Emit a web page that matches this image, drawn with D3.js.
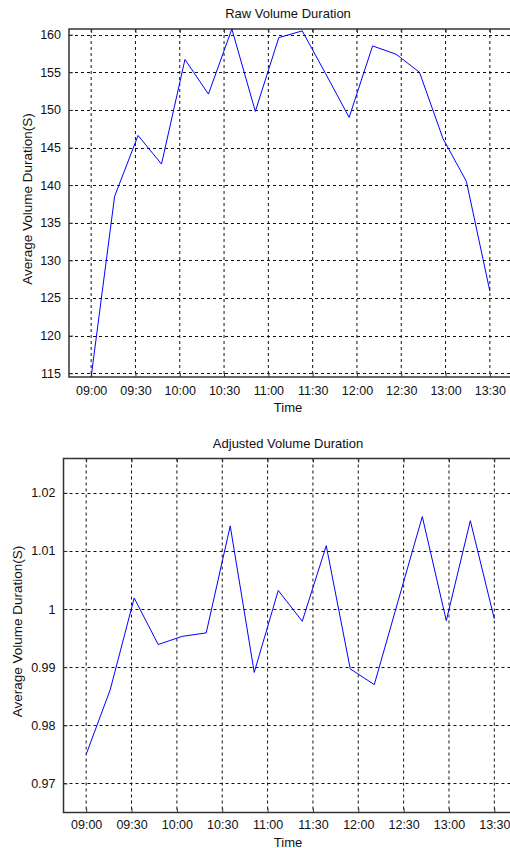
<!DOCTYPE html>
<html>
<head>
<meta charset="utf-8">
<script src="https://cdn.jsdelivr.net/npm/d3@7"></script>
<style>
    html, body { margin: 0; padding: 0; background: #fff; }
    #chart { width: 510px; height: 848px; overflow: hidden; }
    svg { display: block; font-family: "Liberation Sans", Arial, sans-serif; }
</style>
</head>
<body>
<div id="chart"></div>
<script>
// tick labels on the time axis (minutes after midnight)
const timeTicks = [540, 570, 600, 630, 660, 690, 720, 750, 780, 810];
const timeLabels = ['09:00', '09:30', '10:00', '10:30', '11:00', '11:30', '12:00', '12:30', '13:00', '13:30'];

// 18 samples spread evenly from 09:00 to 13:30
const rawDuration = [114.5, 138.5, 146.6, 142.8, 156.7, 152.1, 160.75, 149.8, 159.6,
    160.5, 154.8, 149.0, 158.5, 157.4, 155.0, 146.2, 140.5, 125.9];
const adjustedDuration = [0.9750, 0.9861, 1.0019, 0.9939, 0.9953, 0.9959, 1.0143, 0.9891, 1.0032,
    0.9979, 1.0109, 0.9897, 0.9870, 1.0015, 1.0159, 0.9980, 1.0152, 0.9983];

const rawTicks = [115, 120, 125, 130, 135, 140, 145, 150, 155, 160];
const adjustedTicks = [0.97, 0.98, 0.99, 1.00, 1.01, 1.02];

const startMin = 540, endMin = 810;

const svg = d3.select('#chart').append('svg')
    .attr('width', 510)
    .attr('height', 848);

function drawPanel(opts) {
    const { values, yTicks, yFormat, yPad, box, title, titleY, xLabelY, yLabelX, tickLabelY } = opts;
    const n = values.length;
    const times = values.map((v, i) => startMin + i * (endMin - startMin) / (n - 1));

    const x = d3.scaleLinear()
        .domain([startMin - 15, endMin + 15])
        .range([box.left, box.right]);

    const ext = d3.extent(values);
    const y = d3.scaleLinear()
        .domain([ext[0] - yPad, ext[1] + yPad])
        .range([box.bottom, box.top]);

    const g = svg.append('g');

    // dashed grid
    g.selectAll('.vgrid')
        .data(timeTicks)
        .enter()
        .append('line')
        .attr('x1', d => x(d)).attr('x2', d => x(d))
        .attr('y1', box.top).attr('y2', box.bottom)
        .attr('stroke', '#111')
        .attr('stroke-width', 1)
        .attr('stroke-dasharray', '3,3');

    g.selectAll('.hgrid')
        .data(yTicks)
        .enter()
        .append('line')
        .attr('x1', box.left).attr('x2', box.right)
        .attr('y1', d => Math.round(y(d)) + 0.5).attr('y2', d => Math.round(y(d)) + 0.5)
        .attr('stroke', '#111')
        .attr('stroke-width', 1)
        .attr('stroke-dasharray', '3,3');

    // axes, inward ticks like matlab
    const bottomAxis = d3.axisBottom(x)
        .tickValues(timeTicks)
        .tickFormat((d, i) => timeLabels[i])
        .tickSizeInner(-4)
        .tickSizeOuter(0)
        .tickPadding(9);
    const ax = g.append('g')
        .attr('transform', `translate(0,${box.bottom})`)
        .call(bottomAxis);
    ax.select('.domain').remove();
    ax.selectAll('line').attr('stroke', '#333');
    ax.selectAll('text')
        .attr('font-size', '12.5px')
        .attr('fill', '#111')
        .attr('dy', null)
        .attr('y', tickLabelY - box.bottom);

    const topAxis = d3.axisTop(x)
        .tickValues(timeTicks)
        .tickFormat('')
        .tickSizeInner(-4)
        .tickSizeOuter(0);
    const tx = g.append('g')
        .attr('transform', `translate(0,${box.top})`)
        .call(topAxis);
    tx.select('.domain').remove();
    tx.selectAll('line').attr('stroke', '#333');

    const leftAxis = d3.axisLeft(y)
        .tickValues(yTicks)
        .tickFormat(yFormat)
        .tickSizeInner(-4)
        .tickSizeOuter(0)
        .tickPadding(8);
    const ay = g.append('g')
        .attr('transform', `translate(${box.left},0)`)
        .call(leftAxis);
    ay.select('.domain').remove();
    ay.selectAll('line').attr('stroke', '#333');
    ay.selectAll('text')
        .attr('font-size', '12.5px')
        .attr('fill', '#111');

    // box
    g.append('rect')
        .attr('x', box.left)
        .attr('y', box.top)
        .attr('width', box.right - box.left)
        .attr('height', box.bottom - box.top)
        .attr('fill', 'none')
        .attr('stroke', '#333')
        .attr('stroke-width', 1.5);

    // data line
    const line = d3.line()
        .x((d, i) => x(times[i]))
        .y(d => y(d));
    g.append('path')
        .datum(values)
        .attr('d', line)
        .attr('fill', 'none')
        .attr('stroke', '#0000ff')
        .attr('stroke-width', 1);

    const cx = 288;
    g.append('text')
        .attr('x', cx)
        .attr('y', titleY)
        .attr('text-anchor', 'middle')
        .attr('font-size', '13px')
        .attr('fill', '#111')
        .text(title);

    g.append('text')
        .attr('x', cx)
        .attr('y', xLabelY)
        .attr('text-anchor', 'middle')
        .attr('font-size', '13px')
        .attr('fill', '#111')
        .text('Time');

    const cy = (box.top + box.bottom) / 2 - 4;
    g.append('text')
        .attr('transform', `translate(${yLabelX},${cy}) rotate(-90)`)
        .attr('text-anchor', 'middle')
        .attr('font-size', '13.5px')
        .attr('fill', '#111')
        .text('Average Volume Duration(S)');
}

drawPanel({
    values: rawDuration,
    yTicks: rawTicks,
    yFormat: d3.format('d'),
    yPad: 0,
    box: { left: 69, right: 512, top: 29, bottom: 377 },
    title: 'Raw Volume Duration',
    titleY: 18,
    tickLabelY: 395,
    xLabelY: 411.5,
    yLabelX: 32
});

drawPanel({
    values: adjustedDuration,
    yTicks: adjustedTicks,
    yFormat: d => (d === 1 ? '1' : d3.format('.2f')(d)),
    yPad: 0.01,
    box: { left: 63.5, right: 517, top: 458.5, bottom: 812.5 },
    title: 'Adjusted Volume Duration',
    titleY: 448,
    tickLabelY: 829,
    xLabelY: 846.5,
    yLabelX: 22
});
</script>
</body>
</html>
